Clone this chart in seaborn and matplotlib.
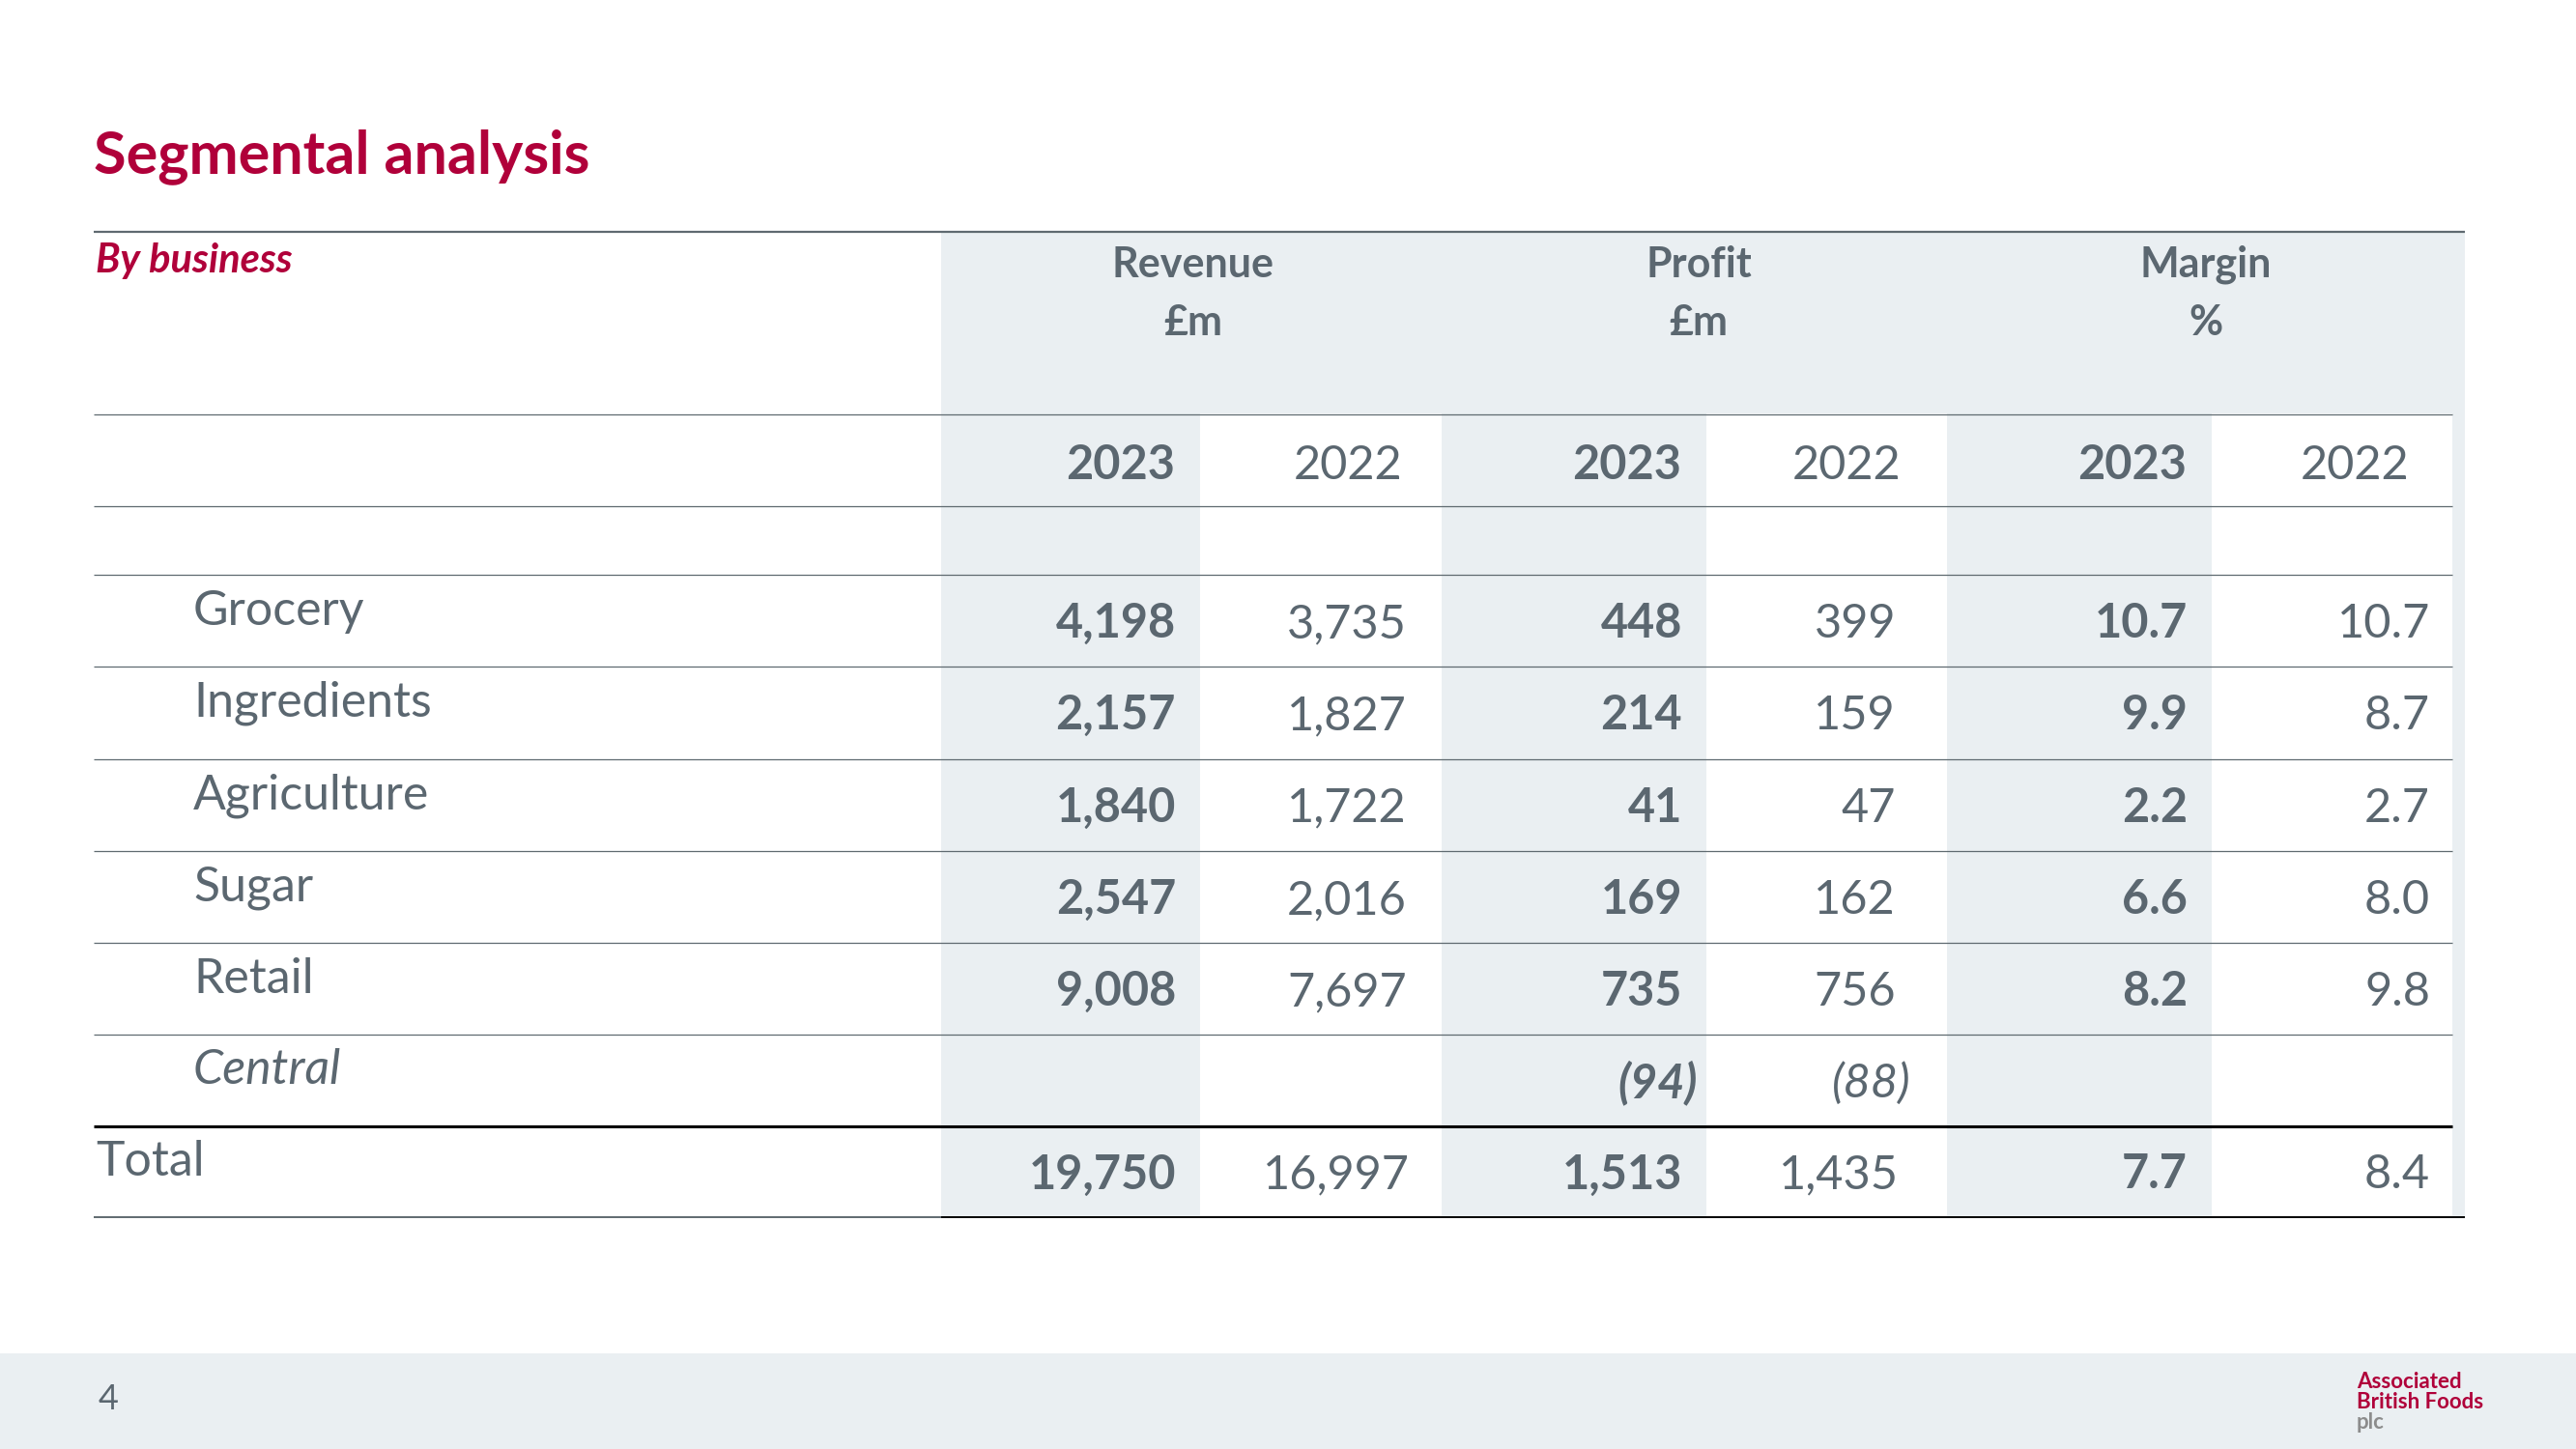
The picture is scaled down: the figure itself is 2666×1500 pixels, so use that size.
import matplotlib
matplotlib.use("Agg")
import matplotlib.pyplot as plt
from matplotlib.patches import Rectangle
import seaborn as sns

# table data
segments = ["Grocery", "Ingredients", "Agriculture", "Sugar", "Retail", "Central"]
revenue_2023 = [4198, 2157, 1840, 2547, 9008, None]
revenue_2022 = [3735, 1827, 1722, 2016, 7697, None]
profit_2023 = [448, 214, 41, 169, 735, -94]
profit_2022 = [399, 159, 47, 162, 756, -88]
margin_2023 = [10.7, 9.9, 2.2, 6.6, 8.2, None]
margin_2022 = [10.7, 8.7, 2.7, 8.0, 9.8, None]
total_revenue = [19750, 16997]
total_profit = [1513, 1435]
total_margin = [7.7, 8.4]
groups = ["Revenue\n£m", "Profit\n£m", "Margin\n%"]
years = ["2023", "2022"]

RED = "#B0003A"
GREY = "#5B6770"
RULE = "#5F6A70"
SHADE = "#EAEFF2"

sns.set_theme(style="white")
plt.rcParams["font.family"] = ["Lato", "DejaVu Sans"]

fig = plt.figure(figsize=(26.66, 15), dpi=100)
ax = fig.add_axes([0, 0, 1, 1])
ax.set_xlim(0, 2666)
ax.set_ylim(1500, 0)
ax.axis("off")

# layout (pixels)
col_edges = [974, 1242, 1492, 1766, 2015, 2289, 2538]
right_edges = [1217, 1456, 1741, 1962, 2264, 2515]
year_right = [1216, 1451, 1740, 1967, 2263, 2493]
group_centers = [1235, 1758, 2283]
row_edges = [595, 690, 785.5, 881, 976, 1071, 1166, 1260]
left = 97
right = 2551

# shading
ax.add_patch(Rectangle((974, 240), right - 974, 428 - 240, color=SHADE, lw=0, zorder=0))
for i in (0, 2, 4):
    ax.add_patch(Rectangle((col_edges[i], 428), col_edges[i + 1] - col_edges[i], 1260 - 428,
                           color=SHADE, lw=0, zorder=0))
ax.add_patch(Rectangle((2538, 428), right - 2538, 1260 - 428, color=SHADE, lw=0, zorder=0))

# footer band
ax.add_patch(Rectangle((0, 1401), 2666, 99, color=SHADE, lw=0, zorder=0))

# rules
ax.plot([left, right], [240, 240], color=RULE, lw=1.6, solid_capstyle="butt")
for y in [428.5, 524, 595] + row_edges[1:6]:
    ax.plot([left, 2538], [y, y], color=RULE, lw=0.9, solid_capstyle="butt")
ax.plot([left, 2538], [1166, 1166], color="black", lw=2.2, solid_capstyle="butt")
ax.plot([left, 974], [1260, 1260], color=RULE, lw=1.4, solid_capstyle="butt")
ax.plot([974, right], [1260, 1260], color="black", lw=1.4, solid_capstyle="butt")

# titles
ax.text(97, 179, "Segmental analysis", color=RED, fontsize=44, fontweight="bold", va="baseline")
ax.text(99, 282, "By business", color=RED, fontsize=30, fontweight="bold", style="italic",
        va="baseline")

# group headers
for cx, g in zip(group_centers, groups):
    top, unit = g.split("\n")
    ax.text(cx, 287, top, color=GREY, fontsize=31, fontweight="bold", ha="center", va="baseline")
    ax.text(cx, 347, unit, color=GREY, fontsize=31, fontweight="bold", ha="center", va="baseline")

for j, xr in enumerate(year_right):
    bold = j % 2 == 0
    ax.text(xr, 496, years[j % 2], color=GREY, fontsize=35,
            fontweight="bold" if bold else "normal", ha="right", va="baseline")


def fmt(v, dec):
    if v is None:
        return ""
    if v < 0:
        return f"({abs(v):,.{dec}f})"
    return f"{v:,.{dec}f}"


columns = [revenue_2023, revenue_2022, profit_2023, profit_2022, margin_2023, margin_2022]
decimals = [0, 0, 0, 0, 1, 1]
totals = total_revenue + total_profit + total_margin

for i, seg in enumerate(segments):
    center = (row_edges[i] + row_edges[i + 1]) / 2
    italic = seg == "Central"
    ax.text(200, center + 4, seg, color=GREY, fontsize=36,
            style="italic" if italic else "normal", va="baseline")
    for j, vals in enumerate(columns):
        v = vals[i]
        if v is None:
            continue
        neg = v < 0
        ax.text(right_edges[j] + (16 if neg else 0), center + 17.5, fmt(v, decimals[j]),
                color=GREY, fontsize=35, fontweight="bold" if j % 2 == 0 else "normal",
                style="italic" if neg else "normal", ha="right", va="baseline")

center = (row_edges[6] + row_edges[7]) / 2
ax.text(99, center + 4, "Total", color=GREY, fontsize=36, va="baseline")
for j, v in enumerate(totals):
    ax.text(right_edges[j] + (3 if j in (1, 3) else 0), center + 17.5, fmt(v, decimals[j]),
            color=GREY, fontsize=35, fontweight="bold" if j % 2 == 0 else "normal",
            ha="right", va="baseline")

# footer
ax.text(102, 1459, "4", color=GREY, fontsize=26, va="baseline")
ax.text(2439, 1437, "Associated", color=RED, fontsize=16, fontweight="bold", va="baseline")
ax.text(2439, 1458, "British Foods", color=RED, fontsize=16, fontweight="bold", va="baseline")
ax.text(2439, 1479, "plc", color="#8C8C8C", fontsize=16, fontweight="bold", va="baseline")

fig.savefig("out.png", dpi=100)
